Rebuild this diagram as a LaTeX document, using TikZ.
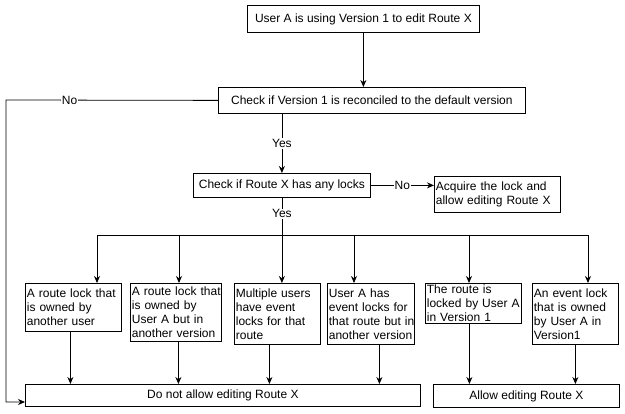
\documentclass[tikz,border=0pt]{standalone}
\usepackage{fontspec}
\setmainfont{Liberation Sans}
\usetikzlibrary{arrows.meta,calc}
\newcommand{\nb}[1]{\mbox{#1}}
\begin{document}
\begin{tikzpicture}[x=1pt,y=-1pt,
  box/.style={draw, line width=0.8pt, anchor=north west, inner sep=0pt,
    font=\fontsize{12}{14}\selectfont},
  lbox/.style={box, align=left, inner xsep=1.5pt},
  arr/.style={line width=0.8pt, -{Stealth[length=7pt,width=6pt]}},
  ln/.style={line width=0.8pt},
  lbl/.style={fill=white, inner sep=1pt, font=\fontsize{12}{14}\selectfont}]
\fill[white] (0,0) rectangle (625,414);
\useasboundingbox (0,0) rectangle (625,414);

\node[box, minimum width=232, minimum height=27] (top) at (247,5) {User A is using Version 1 to edit Route X};
\node[box, minimum width=307, minimum height=26] (c1) at (218,87) {Check if Version 1 is reconciled to the default version};
\node[box, minimum width=177, minimum height=24] (c2) at (193,173) {Check if Route X has any locks};
\node[lbox, text width=123, minimum height=36] (ac) at (434,176) {\nb{Acquire the lock and}\\\nb{allow editing Route X}};

\node[lbox, text width=93, minimum height=48] (b1) at (25,283) {\nb{A route lock that}\\\nb{is owned by}\\\nb{another user}};
\node[lbox, text width=88, minimum height=58] (b2) at (130,283) {\nb{A route lock that}\\\nb{is owned by}\\\nb{User A but in}\\\nb{another version}};
\node[lbox, text width=83, minimum height=61] (b3) at (234,283) {\nb{Multiple users}\\\nb{have event}\\\nb{locks for that}\\\nb{route}};
\node[lbox, text width=84, minimum height=61] (b4) at (327,283) {\nb{User A has}\\\nb{event locks for}\\\nb{that route but in}\\\nb{another version}};
\node[lbox, text width=93, minimum height=40] (b5) at (425,283) {\nb{The route is}\\\nb{locked by User A}\\\nb{in Version 1}};
\node[lbox, text width=83, minimum height=61] (b6) at (532,283) {\nb{An event lock}\\\nb{that is owned}\\\nb{by User A in}\\\nb{Version1}};

\node[box, minimum width=395, minimum height=22] (dn) at (25,384) {Do not allow editing Route X};
\node[box, minimum width=186, minimum height=23] (al) at (433,384) {Allow editing Route X};

% top flow
\draw[arr] (top.south) -- (top.south |- c1.north);
\draw[arr] (c1.south -| c2.north) -- node[lbl]{Yes} (c2.north);
\draw[arr] (c2.east) -- node[lbl]{No} (c2.east -| ac.west);

% left No branch
\coordinate (lt) at (6,100);
\coordinate (lb) at (6,402);
\draw[arr] (c1.west) -- node[lbl,pos=0.7]{No} (lt) -- (lb) -- (lb -| dn.west);

% bus
\path (c2.south) ++(0,38) coordinate (hub);
\draw[ln] (c2.south) -- node[lbl,pos=0.42]{Yes} (hub);
\draw[arr] (hub) -- (hub |- b3.north);
\coordinate (t1) at (97,235);
\coordinate (t2) at (179,235);
\coordinate (t4) at (354,235);
\coordinate (t5) at (469,235);
\coordinate (t6) at (588,235);
\draw[ln] (t1) -- (t6);
\draw[arr] (t1) -- (t1 |- b1.north);
\draw[arr] (t2) -- (t2 |- b2.north);
\draw[arr] (t4) -- (t4 |- b4.north);
\draw[arr] (t5) -- (t5 |- b5.north);
\draw[arr] (t6) -- (t6 |- b6.north);

% down to results
\path ([xshift=-3pt]b1.south) coordinate (s1);
\path ([xshift=2.5pt]b2.south) coordinate (s2);
\path ([xshift=-8pt]b3.south) coordinate (s3);
\path ([xshift=8.5pt]b4.south) coordinate (s4);
\path ([xshift=-4pt]b5.south) coordinate (s5);
\path (b6.south) coordinate (s6);
\draw[arr] (s1) -- (s1 |- dn.north);
\draw[arr] (s2) -- (s2 |- dn.north);
\draw[arr] (s3) -- (s3 |- dn.north);
\draw[arr] (s4) -- (s4 |- dn.north);
\draw[arr] (s5) -- (s5 |- al.north);
\draw[arr] (s6) -- (s6 |- al.north);
\end{tikzpicture}
\end{document}
